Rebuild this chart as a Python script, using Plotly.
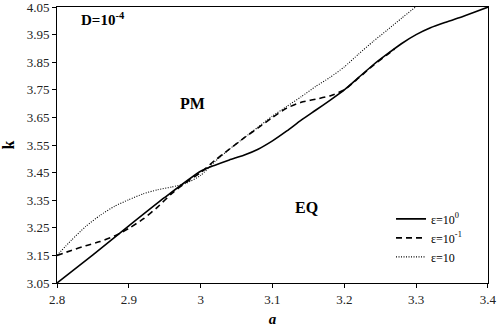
import plotly.graph_objects as go

# epsilon = 10^0 (solid)
a_solid = [2.80, 2.85, 2.90, 2.95, 3.00, 3.02, 3.04, 3.06, 3.08, 3.10, 3.12, 3.14, 3.16,
           3.18, 3.20, 3.22, 3.24, 3.26, 3.28, 3.30, 3.32, 3.34, 3.36, 3.38, 3.40]
k_solid = [3.050, 3.152, 3.257, 3.360, 3.455, 3.477, 3.496, 3.513, 3.535, 3.565, 3.601, 3.640, 3.676,
           3.712, 3.750, 3.795, 3.840, 3.880, 3.918, 3.950, 3.975, 3.994, 4.011, 4.030, 4.050]

# epsilon = 10^-1 (dashed)
a_dash = [2.80, 2.82, 2.84, 2.86, 2.88, 2.90, 2.92, 2.94, 2.96, 2.98, 3.00, 3.02, 3.04,
          3.06, 3.08, 3.10, 3.12, 3.14, 3.16, 3.18, 3.20, 3.22, 3.24, 3.26, 3.27]
k_dash = [3.150, 3.168, 3.185, 3.200, 3.220, 3.248, 3.282, 3.325, 3.375, 3.415, 3.450, 3.495, 3.535,
          3.575, 3.612, 3.650, 3.684, 3.705, 3.716, 3.728, 3.750, 3.793, 3.838, 3.878, 3.898]

# epsilon = 10 (dotted)
a_dot = [2.80, 2.82, 2.84, 2.86, 2.88, 2.90, 2.92, 2.94, 2.96, 2.98, 3.00, 3.02, 3.04,
         3.06, 3.08, 3.10, 3.12, 3.14, 3.16, 3.18, 3.20, 3.22, 3.24, 3.26, 3.28, 3.30]
k_dot = [3.150, 3.205, 3.255, 3.295, 3.328, 3.352, 3.373, 3.388, 3.398, 3.412, 3.440, 3.490, 3.535,
         3.575, 3.615, 3.655, 3.690, 3.725, 3.762, 3.795, 3.833, 3.880, 3.925, 3.967, 4.010, 4.052]

series_names = ["ε=10<sup>0</sup>", "ε=10<sup>-1</sup>", "ε=10"]

x_ticks = [2.8, 2.9, 3.0, 3.1, 3.2, 3.3, 3.4]
x_tick_labels = ["2.8", "2.9", "3", "3.1", "3.2", "3.3", "3.4"]
y_ticks = [3.05, 3.15, 3.25, 3.35, 3.45, 3.55, 3.65, 3.75, 3.85, 3.95, 4.05]
y_tick_labels = ["3.05", "3.15", "3.25", "3.35", "3.45", "3.55", "3.65", "3.75", "3.85", "3.95", "4.05"]

FONT = "Liberation Serif"

fig = go.Figure()
fig.add_trace(go.Scatter(x=a_solid, y=k_solid, mode="lines", name=series_names[0],
                         line=dict(color="black", width=1.6, dash="solid", shape="spline", smoothing=0.6)))
fig.add_trace(go.Scatter(x=a_dash, y=k_dash, mode="lines", name=series_names[1],
                         line=dict(color="black", width=1.6, dash="6px,4px", shape="spline", smoothing=0.6)))
fig.add_trace(go.Scatter(x=a_dot, y=k_dot, mode="lines", name=series_names[2],
                         line=dict(color="black", width=1.1, dash="1px,1.5px", shape="spline", smoothing=0.6)))

fig.add_annotation(x=2.83, y=4.005, text="<b>D=10<sup>-4</sup></b>", showarrow=False,
                   xanchor="left", yanchor="middle", font=dict(family=FONT, size=15, color="black"))
fig.add_annotation(x=2.988, y=3.70, text="<b>PM</b>", showarrow=False,
                   font=dict(family=FONT, size=16, color="black"))
fig.add_annotation(x=3.147, y=3.325, text="<b>EQ</b>", showarrow=False,
                   font=dict(family=FONT, size=16, color="black"))

fig.update_layout(
    width=498, height=327,
    margin=dict(l=57, r=10, t=7, b=44, autoexpand=False),
    paper_bgcolor="white", plot_bgcolor="white",
    font=dict(family=FONT, size=13, color="black"),
    showlegend=True,
    legend=dict(x=0.775, y=0.285, xanchor="left", yanchor="top",
                bgcolor="rgba(0,0,0,0)", font=dict(family=FONT, size=12, color="black"),
                tracegroupgap=0, itemwidth=30),
    xaxis=dict(range=[2.8, 3.4001], tickvals=x_ticks, ticktext=x_tick_labels, automargin=False,
               showgrid=False, zeroline=False, showline=True, linecolor="black", linewidth=1,
               mirror=True, ticks="outside", ticklen=4, tickcolor="black", ticklabeloverflow="allow",
               tickfont=dict(family=FONT, size=13, color="#222"),
               title=dict(text="<b><i>a</i></b>", font=dict(family=FONT, size=15, color="black"))),
    yaxis=dict(range=[3.05, 4.0502], tickvals=y_ticks, ticktext=y_tick_labels, automargin=False,
               showgrid=False, zeroline=False, showline=True, linecolor="black", linewidth=1,
               mirror=True, ticks="outside", ticklen=4, tickcolor="black", ticklabeloverflow="allow",
               tickfont=dict(family=FONT, size=13, color="#222"),
               title=dict(text="<b>k</b>", font=dict(family=FONT, size=16, color="black"))),
)

fig.write_html("out.html", config={"displayModeBar": False},
               post_script="document.body.style.margin='0';")
